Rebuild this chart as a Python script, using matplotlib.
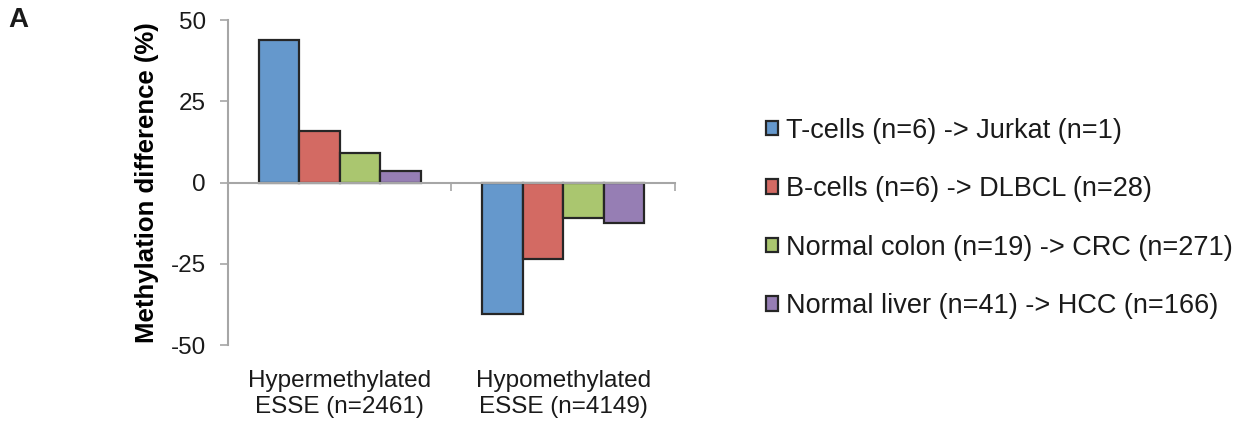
import matplotlib.pyplot as plt
import numpy as np

plt.rcParams['font.family'] = ['Liberation Sans', 'DejaVu Sans']

categories = ["Hypermethylated\nESSE (n=2461)", "Hypomethylated\nESSE (n=4149)"]
series_labels = [
    "T-cells (n=6) -> Jurkat (n=1)",
    "B-cells (n=6) -> DLBCL (n=28)",
    "Normal colon (n=19) -> CRC (n=271)",
    "Normal liver (n=41) -> HCC (n=166)",
]
# methylation difference (%) per series: [hyper, hypo]
tcell_jurkat = [43.9, -40.4]
bcell_dlbcl = [16.0, -23.4]
colon_crc = [9.2, -10.9]
liver_hcc = [3.4, -12.5]
values = [tcell_jurkat, bcell_dlbcl, colon_crc, liver_hcc]
colors = ["#6598CC", "#D36A63", "#AAC66F", "#967EB4"]

fig = plt.figure(figsize=(12.47, 4.25), dpi=100)
ax = fig.add_axes([0.1828, 0.1882, 0.3585, 0.7647])

x = np.arange(len(categories))
w = 0.181
for i, (vals, col, lab) in enumerate(zip(values, colors, series_labels)):
    ax.bar(x + (i - 1.5) * w, vals, width=w, color=col, edgecolor="#262626",
           linewidth=1.6, label=lab, zorder=1)

ax.set_xlim(-0.5, 1.5)
ax.set_ylim(-50, 50)
ax.set_yticks([-50, -25, 0, 25, 50])
ax.set_yticklabels(["-50", "-25", "0", "25", "50"])

grey = "#A6A6A6"
for s in ["top", "right"]:
    ax.spines[s].set_visible(False)
ax.spines["left"].set_color(grey)
ax.spines["left"].set_linewidth(1.5)
ax.spines["bottom"].set_color(grey)
ax.spines["bottom"].set_linewidth(1.5)
ax.spines["bottom"].set_position(("data", 0))
ax.spines["bottom"].set_zorder(3)

ax.tick_params(axis="y", direction="out", length=6, width=1.2, color=grey,
               labelsize=17.5, labelcolor="#1a1a1a", pad=10)
ax.set_xticks([0.5, 1.5])
ax.tick_params(axis="x", direction="out", length=6, width=1.2, color=grey,
               labelbottom=False)

sec = ax.secondary_xaxis("bottom")
sec.set_xticks(x)
sec.set_xticklabels(categories, fontsize=17.5, color="#1a1a1a", linespacing=1.25)
sec.spines["bottom"].set_visible(False)
sec.tick_params(axis="x", length=0, pad=18)

ax.set_ylabel("Methylation difference (%)", fontsize=18.5, fontweight="bold",
              labelpad=8)

leg = ax.legend(loc="center left", bbox_to_anchor=(0.614, 0.486),
                bbox_transform=fig.transFigure, frameon=False, fontsize=19.5,
                handlelength=0.45, handleheight=0.45, handletextpad=0.3,
                labelspacing=1.2, borderpad=0, borderaxespad=0)
for t in leg.get_texts():
    t.set_color("#1a1a1a")

fig.text(0.007, 0.952, "A", fontsize=20, fontweight="bold", va="center",
         ha="left", color="#1a1a1a")

fig.savefig("out.png", dpi=100)
